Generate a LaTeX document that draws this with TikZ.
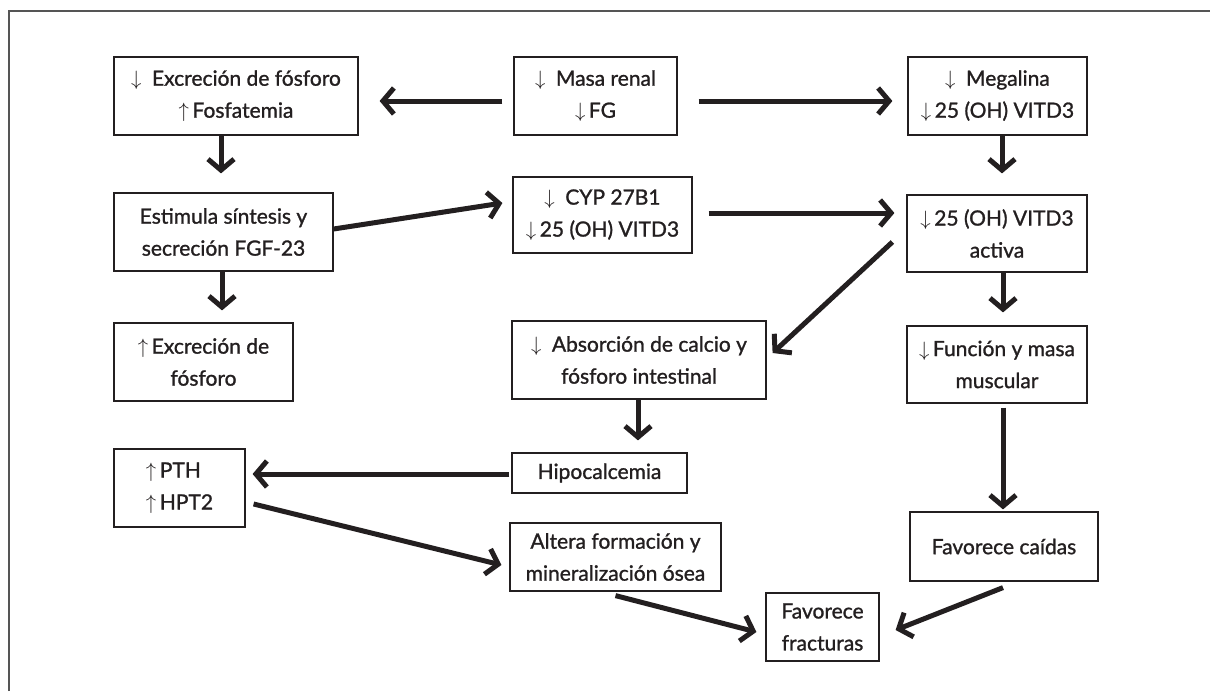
\documentclass[tikz,border=0pt]{standalone}
\usepackage{fontspec}
\setmainfont{Lato}[FakeBold=1.2]
\usetikzlibrary{arrows.meta}
\definecolor{ink}{HTML}{231F20}
\definecolor{framegray}{HTML}{555555}
\begin{document}
\begin{tikzpicture}[x=1pt,y=-1pt,
  box/.style={draw=ink, line width=1.2pt, text=ink, align=center, inner sep=0pt,
    font=\fontsize{21}{32}\selectfont},
  arr/.style={draw=ink, line width=5pt, -{Straight Barb[length=11pt,width=26pt]}}]
\useasboundingbox (0,0) rectangle (1210,691);
\draw[framegray, line width=1.3pt] (9,691) -- (9,11) -- (1210,11);

\node[box, minimum width=244pt, minimum height=78pt] (A) at (236,96)
  {$\downarrow$\enspace Excreción de fósforo\\$\uparrow$\,Fosfatemia};
\node[box, minimum width=163pt, minimum height=78pt] (B) at (595.5,96)
  {$\downarrow$\enspace Masa renal\\$\downarrow$\,FG};
\node[box, minimum width=179pt, minimum height=78pt] (C) at (997.5,96)
  {$\downarrow$\enspace Megalina\\$\downarrow$\,25 (OH) VITD3};
\node[box, minimum width=219pt, minimum height=78pt] (D) at (223.5,232)
  {Estimula síntesis y\\secreción FGF-23};
\node[box, minimum width=179pt, minimum height=76pt] (E) at (602.5,215)
  {$\downarrow$\enspace CYP 27B1\\$\downarrow$\,25 (OH) VITD3};
\node[box, minimum width=180pt, minimum height=77pt] (F) at (997,233.5)
  {$\downarrow$\,25 (OH) VITD3\\activa};
\node[box, minimum width=179pt, minimum height=78pt] (H) at (203.5,362)
  {$\uparrow$\,Excreción de\\fósforo};
\node[box, minimum width=254pt, minimum height=78pt] (G) at (639,360)
  {$\downarrow$\enspace Absorción de calcio y\\fósforo intestinal};
\node[box, minimum width=180pt, minimum height=77pt] (I) at (997,364.5)
  {$\downarrow$\,Función y masa\\muscular};
\node[box, align=left, minimum width=131pt, minimum height=78pt] (J) at (179.5,488)
  {$\uparrow$\,PTH\\$\uparrow$\,HPT2};
\node[box, minimum width=175pt, minimum height=40pt] (K) at (599.5,473)
  {Hipocalcemia};
\node[box, minimum width=211pt, minimum height=68pt] (N) at (615.5,557)
  {Altera formación y\\mineralización ósea};
\node[box, minimum width=188pt, minimum height=69pt] (L) at (1004,546.5)
  {Favorece caídas};
\node[box, minimum width=113pt, minimum height=68pt] (M) at (822.5,627)
  {Favorece\\fracturas};

\draw[arr] ([xshift=-11pt,yshift=-5pt]B.west) -- ([xshift=21pt,yshift=-5pt]A.east);
\draw[arr] ([xshift=21pt,yshift=-5pt]B.east) -- ([xshift=-15pt,yshift=-5pt]C.west);
\draw[arr] ([xshift=-15pt]A.south) -- ([xshift=-2.5pt,yshift=19pt]D.north);
\draw[arr] ([yshift=3pt]D.east) -- ([xshift=-10pt,yshift=12pt]E.west);
\draw[arr] ([xshift=16pt,yshift=2pt]E.east) -- ([xshift=-12pt,yshift=20.5pt]F.west);
\draw[arr] ([xshift=4.5pt]C.south) -- ([xshift=5pt,yshift=21pt]F.north);
\draw[arr] ([xshift=-14pt,yshift=-8.5pt]F.west) -- ([xshift=6pt,yshift=7pt]G.east);
\draw[arr] ([xshift=-1.5pt]D.south) -- ([xshift=18.5pt,yshift=12pt]H.north);
\draw[arr] ([xshift=6pt]F.south) -- ([xshift=6pt,yshift=13pt]I.north);
\draw[arr] ([xshift=-1pt]G.south) -- ([xshift=38.5pt,yshift=12pt]K.north);
\draw[arr] ([xshift=6pt,yshift=-4pt]I.south) -- ([xshift=-1pt,yshift=2pt]L.north);
\draw[arr] ([xshift=-2pt,yshift=-1pt]K.west) -- ([xshift=7pt,yshift=14pt]J.east);
\draw[arr] ([xshift=8pt,yshift=-16pt]J.east) -- ([xshift=-8pt,yshift=-8pt]N.west);
\draw[arr] ([yshift=-4pt]N.south) -- ([xshift=-9pt,yshift=-5pt]M.west);
\draw[arr] ([xshift=-1pt,yshift=-6pt]L.south) -- ([xshift=16pt,yshift=-3pt]M.east);
\end{tikzpicture}
\end{document}
